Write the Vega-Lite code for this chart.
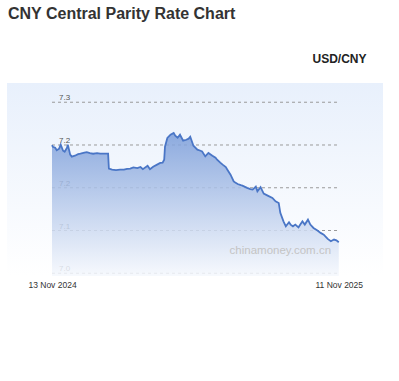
{
  "$schema": "https://vega.github.io/schema/vega-lite/v6.json",
  "width": 376,
  "height": 193,
  "autosize": {"type": "none"},
  "padding": {"left": 7, "top": 83, "right": 16, "bottom": 105},
  "title": {
    "text": "CNY Central Parity Rate Chart",
    "anchor": "start",
    "frame": "group",
    "fontSize": 16,
    "fontWeight": "bold",
    "color": "#333333",
    "font": "Liberation Sans",
    "dx": 1,
    "dy": -26
  },
  "config": {
    "font": "Liberation Sans",
    "view": {
      "stroke": null,
      "fill": {
        "gradient": "linear", "x1": 0, "y1": 0, "x2": 0, "y2": 1,
        "stops": [{"offset": 0, "color": "#e8f0fc"}, {"offset": 1, "color": "#ffffff"}]
      }
    }
  },
  "datasets": {
    "rate": [
      {"d": "2024-11-13", "v": 7.1998}, {"d": "2024-11-14", "v": 7.1980}, {"d": "2024-11-17", "v": 7.1968},
      {"d": "2024-11-19", "v": 7.1939}, {"d": "2024-11-22", "v": 7.1957}, {"d": "2024-11-24", "v": 7.2004},
      {"d": "2024-11-27", "v": 7.1933}, {"d": "2024-11-29", "v": 7.1922}, {"d": "2024-12-02", "v": 7.1968},
      {"d": "2024-12-03", "v": 7.2004}, {"d": "2024-12-06", "v": 7.1887}, {"d": "2024-12-08", "v": 7.1864},
      {"d": "2024-12-12", "v": 7.1875}, {"d": "2024-12-16", "v": 7.1893}, {"d": "2024-12-19", "v": 7.1898},
      {"d": "2024-12-24", "v": 7.1910}, {"d": "2024-12-27", "v": 7.1916}, {"d": "2024-12-31", "v": 7.1904},
      {"d": "2025-01-04", "v": 7.1898}, {"d": "2025-01-09", "v": 7.1904}, {"d": "2025-01-13", "v": 7.1898},
      {"d": "2025-01-18", "v": 7.1898}, {"d": "2025-01-22", "v": 7.1898}, {"d": "2025-01-23", "v": 7.1898},
      {"d": "2025-01-24", "v": 7.1723}, {"d": "2025-01-28", "v": 7.1711}, {"d": "2025-02-02", "v": 7.1706},
      {"d": "2025-02-07", "v": 7.1711}, {"d": "2025-02-12", "v": 7.1711}, {"d": "2025-02-16", "v": 7.1720},
      {"d": "2025-02-20", "v": 7.1723}, {"d": "2025-02-24", "v": 7.1738}, {"d": "2025-03-01", "v": 7.1729},
      {"d": "2025-03-05", "v": 7.1743}, {"d": "2025-03-08", "v": 7.1717}, {"d": "2025-03-14", "v": 7.1758},
      {"d": "2025-03-17", "v": 7.1717}, {"d": "2025-03-21", "v": 7.1746}, {"d": "2025-03-26", "v": 7.1770},
      {"d": "2025-03-30", "v": 7.1790}, {"d": "2025-04-02", "v": 7.1793}, {"d": "2025-04-04", "v": 7.1828},
      {"d": "2025-04-05", "v": 7.1980}, {"d": "2025-04-08", "v": 7.2082}, {"d": "2025-04-12", "v": 7.2120},
      {"d": "2025-04-16", "v": 7.2140}, {"d": "2025-04-18", "v": 7.2109}, {"d": "2025-04-21", "v": 7.2085},
      {"d": "2025-04-24", "v": 7.2120}, {"d": "2025-04-28", "v": 7.2050}, {"d": "2025-05-02", "v": 7.2061},
      {"d": "2025-05-05", "v": 7.2074}, {"d": "2025-05-07", "v": 7.2097}, {"d": "2025-05-11", "v": 7.1992},
      {"d": "2025-05-16", "v": 7.1945}, {"d": "2025-05-20", "v": 7.1933}, {"d": "2025-05-22", "v": 7.1925},
      {"d": "2025-05-26", "v": 7.1867}, {"d": "2025-05-30", "v": 7.1907}, {"d": "2025-06-04", "v": 7.1875},
      {"d": "2025-06-08", "v": 7.1852}, {"d": "2025-06-10", "v": 7.1828}, {"d": "2025-06-14", "v": 7.1793},
      {"d": "2025-06-17", "v": 7.1770}, {"d": "2025-06-21", "v": 7.1741}, {"d": "2025-06-23", "v": 7.1711},
      {"d": "2025-06-27", "v": 7.1653}, {"d": "2025-07-01", "v": 7.1575}, {"d": "2025-07-03", "v": 7.1560},
      {"d": "2025-07-06", "v": 7.1544}, {"d": "2025-07-10", "v": 7.1530}, {"d": "2025-07-12", "v": 7.1525},
      {"d": "2025-07-18", "v": 7.1498}, {"d": "2025-07-22", "v": 7.1484}, {"d": "2025-07-25", "v": 7.1478},
      {"d": "2025-07-29", "v": 7.1513}, {"d": "2025-07-31", "v": 7.1458}, {"d": "2025-08-04", "v": 7.1507},
      {"d": "2025-08-08", "v": 7.1431}, {"d": "2025-08-13", "v": 7.1408}, {"d": "2025-08-19", "v": 7.1381},
      {"d": "2025-08-23", "v": 7.1341}, {"d": "2025-08-27", "v": 7.1322}, {"d": "2025-08-29", "v": 7.1206},
      {"d": "2025-09-02", "v": 7.1107}, {"d": "2025-09-05", "v": 7.1049}, {"d": "2025-09-09", "v": 7.1096},
      {"d": "2025-09-11", "v": 7.1069}, {"d": "2025-09-14", "v": 7.1049}, {"d": "2025-09-17", "v": 7.1069},
      {"d": "2025-09-21", "v": 7.1037}, {"d": "2025-09-26", "v": 7.1107}, {"d": "2025-09-29", "v": 7.1069},
      {"d": "2025-10-03", "v": 7.1127}, {"d": "2025-10-06", "v": 7.1069}, {"d": "2025-10-10", "v": 7.1030},
      {"d": "2025-10-15", "v": 7.0999}, {"d": "2025-10-19", "v": 7.0972}, {"d": "2025-10-23", "v": 7.0952},
      {"d": "2025-10-28", "v": 7.0902}, {"d": "2025-11-01", "v": 7.0874}, {"d": "2025-11-05", "v": 7.0894},
      {"d": "2025-11-08", "v": 7.0885}, {"d": "2025-11-11", "v": 7.0862}
    ],
    "grid": [{"v": 7.25}, {"v": 7.2}, {"v": 7.15}, {"v": 7.1}, {"v": 7.05}]
  },
  "layer": [
    {
      "data": {"name": "grid"},
      "mark": {"type": "rule", "strokeDash": [3, 3], "color": "#9a9a9a", "strokeWidth": 1},
      "encoding": {
        "x": {"datum": {"year": 2024, "month": 11, "date": 13, "utc": true}, "type": "temporal",
              "scale": {"type": "utc", "domain": [{"year": 2024, "month": 9, "date": 17, "utc": true}, {"year": 2026, "month": 1, "date": 6, "utc": true}]},
              "axis": {"values": [{"year": 2024, "month": 11, "date": 13, "utc": true}, {"year": 2025, "month": 11, "date": 11, "utc": true}],
                       "format": "%d %b %Y", "labelFontSize": 8.5, "labelColor": "#333333", "labelPadding": 4,
                       "ticks": false, "domain": false, "grid": false, "title": null, "labelFlush": false, "labelOverlap": false}},
        "x2": {"datum": {"year": 2025, "month": 11, "date": 11, "utc": true}},
        "y": {"field": "v", "type": "quantitative",
              "scale": {"domain": [7.0468, 7.2725], "zero": false, "nice": false},
              "axis": {"orient": "right", "labels": false, "ticks": false, "domain": false, "grid": false,
                       "title": "USD/CNY", "titleAngle": 0, "titleX": -17, "titleY": -25, "titleAlign": "right",
                       "titleBaseline": "middle", "titleFontSize": 12, "titleFontWeight": "bold", "titleColor": "#222222"}}
      }
    },
    {
      "data": {"name": "grid"},
      "mark": {"type": "text", "align": "left", "baseline": "alphabetic", "dx": 7, "dy": -2, "fontSize": 8},
      "encoding": {
        "x": {"datum": {"year": 2024, "month": 11, "date": 13, "utc": true}, "type": "temporal"},
        "y": {"field": "v", "type": "quantitative"},
        "text": {"field": "v", "type": "quantitative", "format": ".1f"},
        "color": {"value": "#555555"}
      }
    },
    {
      "data": {"name": "rate"},
      "mark": {"type": "area", "fillOpacity": 0.85,
               "color": {"gradient": "linear", "x1": 0, "y1": 0, "x2": 0, "y2": 1,
                         "stops": [{"offset": 0, "color": "#7b9dd9"}, {"offset": 1, "color": "#f5f8fd"}]}},
      "encoding": {
        "x": {"field": "d", "type": "temporal"},
        "y": {"field": "v", "type": "quantitative"},
        "y2": {"datum": 7.0468}
      }
    },
    {
      "data": {"name": "rate"},
      "mark": {"type": "line", "color": "#4a76c6", "strokeWidth": 1.8},
      "encoding": {
        "x": {"field": "d", "type": "temporal"},
        "y": {"field": "v", "type": "quantitative"}
      }
    },
    {
      "data": {"values": [{"label": "chinamoney.com.cn"}]},
      "mark": {"type": "text", "align": "center", "baseline": "middle", "fontSize": 11.5, "color": "#c4c4c4"},
      "encoding": {
        "x": {"datum": {"year": 2025, "month": 8, "date": 29, "utc": true}, "type": "temporal"},
        "y": {"datum": 7.0765, "type": "quantitative"},
        "text": {"field": "label", "type": "nominal"}
      }
    }
  ]
}
